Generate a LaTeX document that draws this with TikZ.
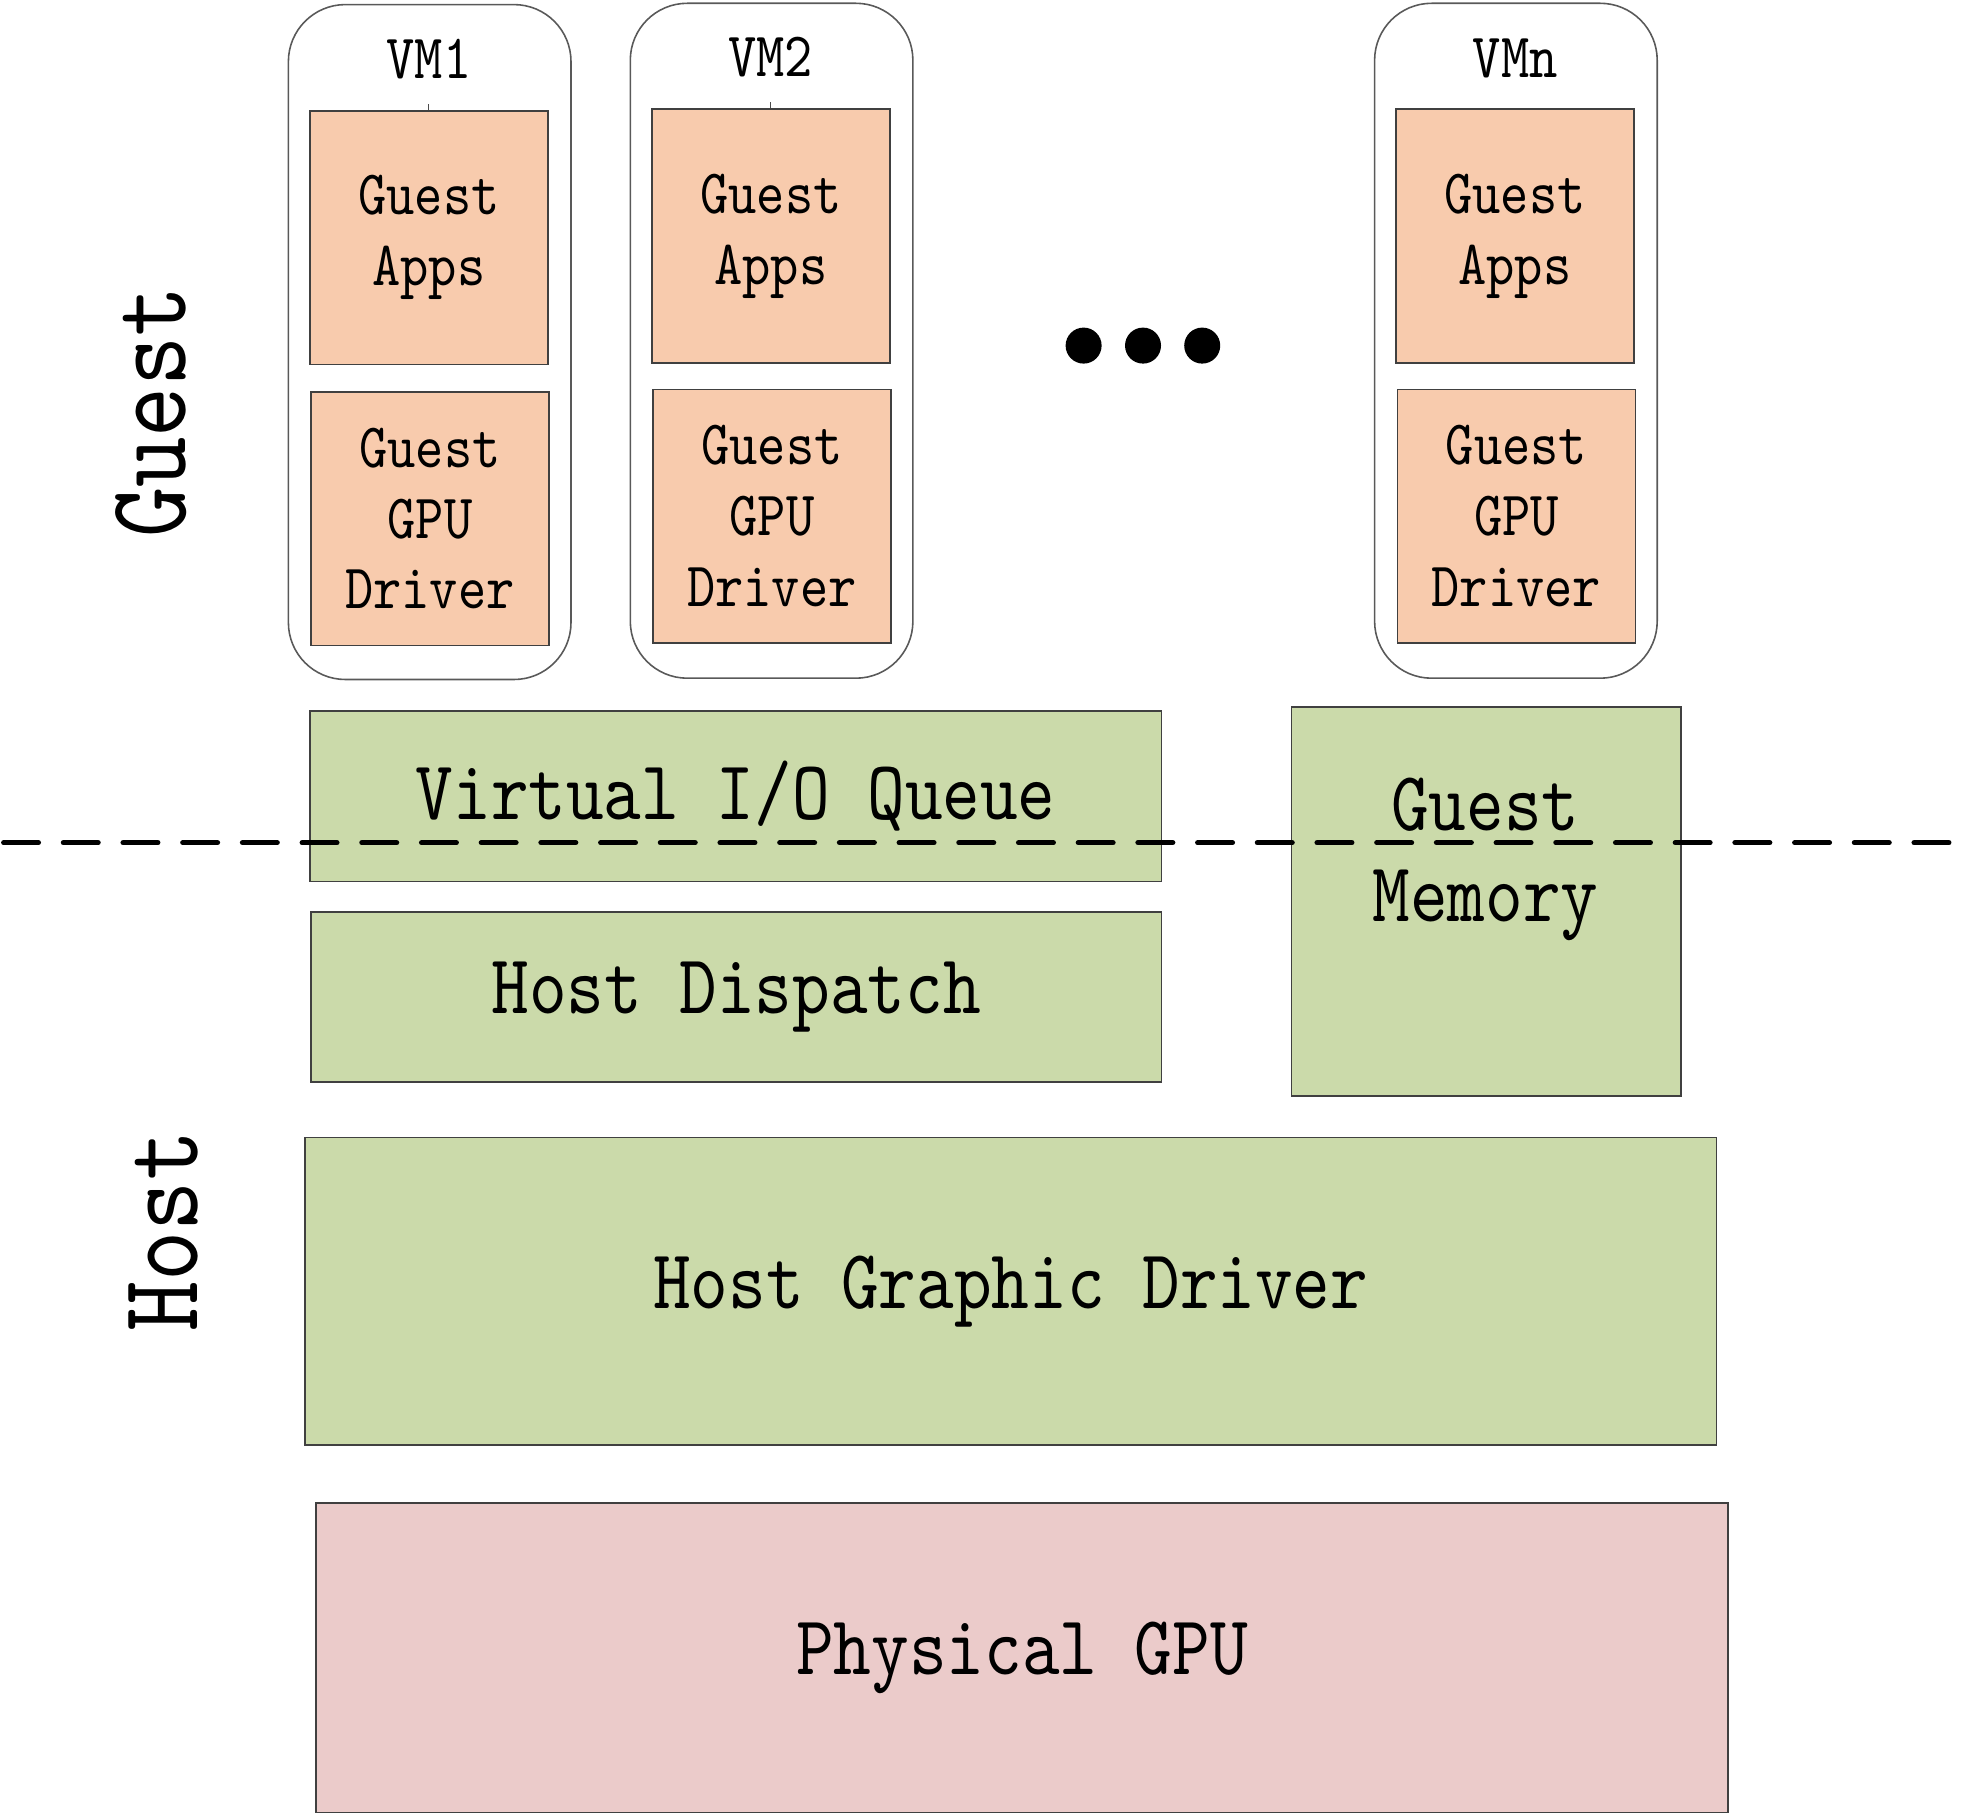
\documentclass[tikz,border=0pt]{standalone}
\usepackage{fontspec}
\usetikzlibrary{calc}
\newfontfamily\simtt[FakeStretch=0.85]{lmmono10-regular.otf}

\definecolor{appfill}{HTML}{F8CBAD}
\definecolor{hostfill}{HTML}{CBDAAA}
\definecolor{gpufill}{HTML}{EBCBCA}
\definecolor{boxline}{HTML}{404040}

\tikzset{
  vmbox/.style={draw=black!65, line width=0.45pt, rounded corners=0.57cm, anchor=north west,
    inner sep=0pt, minimum width=2.826cm, minimum height=6.749cm},
  appbox/.style={draw=boxline, fill=appfill, line width=0.5pt, anchor=north west, inner sep=0pt,
    minimum width=2.38cm, minimum height=2.535cm, align=center,
    font=\simtt\fontsize{18}{20.1}\selectfont},
  layerbox/.style={draw=boxline, fill=hostfill, line width=0.5pt, anchor=north west, inner sep=0pt,
    align=center, font=\simtt\fontsize{24}{25.9}\selectfont},
  vmlabel/.style={inner sep=0pt, font=\simtt\fontsize{18}{20}\selectfont},
  sidelabel/.style={rotate=90, inner sep=0pt, font=\simtt\fontsize{32}{34}\selectfont},
  dot/.style={circle, fill=black, inner sep=0pt, minimum size=0.36cm},
  divider/.style={line width=0.053cm, line cap=round, dash pattern=on 0.347cm off 0.25cm}
}

\begin{document}
\begin{tikzpicture}[y=-1cm]
  \useasboundingbox (0,0) rectangle (19.78,18.13);

  % virtual machines
  \node[vmbox] (vm1) at (2.876,0.038) {};
  \node[vmbox] (vm2) at (6.295,0.025) {};
  \node[vmbox] (vmn) at (13.738,0.025) {};

  \node[vmlabel] (vm1lbl) at (4.289,0.59) {VM1};
  \node[vmlabel] (vm2lbl) at (7.708,0.57) {VM2};
  \node[vmlabel] (vmnlbl) at (15.151,0.58) {VMn};

  \node[appbox] (apps1) at (3.09,1.10) {Guest\\Apps};
  \node[appbox] (apps2) at (6.51,1.085) {Guest\\Apps};
  \node[appbox] (appsn) at (13.95,1.085) {Guest\\Apps};

  \node[appbox] (drv1) at (3.10,3.91) {Guest\\GPU\\Driver};
  \node[appbox] (drv2) at (6.52,3.885) {Guest\\GPU\\Driver};
  \node[appbox] (drvn) at (13.965,3.885) {Guest\\GPU\\Driver};

  \coordinate (tick1) at ($(apps1.north)+(0,-0.06)$);
  \coordinate (tick2) at ($(apps2.north)+(0,-0.06)$);
  \draw[line width=0.3pt, black!70] (apps1.north) -- (tick1);
  \draw[line width=0.3pt, black!70] (apps2.north) -- (tick2);

  % the dots
  \node[dot] (dot1) at (10.836,3.456) {};
  \node[dot] (dot2) at (11.43,3.456) {};
  \node[dot] (dot3) at (12.022,3.456) {};

  % shared layers
  \node[layerbox, minimum width=8.516cm, minimum height=1.705cm] (queue) at (3.09,7.10) {Virtual I/O Queue};
  \node[layerbox, minimum width=8.506cm, minimum height=1.702cm] (dispatch) at (3.10,9.108) {Host Dispatch};
  \node[layerbox, minimum width=3.898cm, minimum height=3.886cm] (mem) at (12.905,7.064) {};
  \node[layerbox, draw=none, fill=none, anchor=center] (memtxt) at (14.854,8.59) {Guest\\Memory};
  \node[layerbox, minimum width=14.116cm, minimum height=3.078cm] (hostdrv) at (3.04,11.366) {Host Graphic Driver};
  \node[layerbox, fill=gpufill, minimum width=14.116cm, minimum height=3.091cm] (gpu) at (3.154,15.024) {Physical GPU};

  % guest / host border
  \coordinate (divl) at (0.037,8.427);
  \coordinate (divr) at (19.60,8.427);
  \draw[divider] (divl) -- (divr);

  \node[sidelabel] (guest) at (1.51,4.12) {Guest};
  \node[sidelabel] (host) at (1.63,12.31) {Host};
\end{tikzpicture}
\end{document}
